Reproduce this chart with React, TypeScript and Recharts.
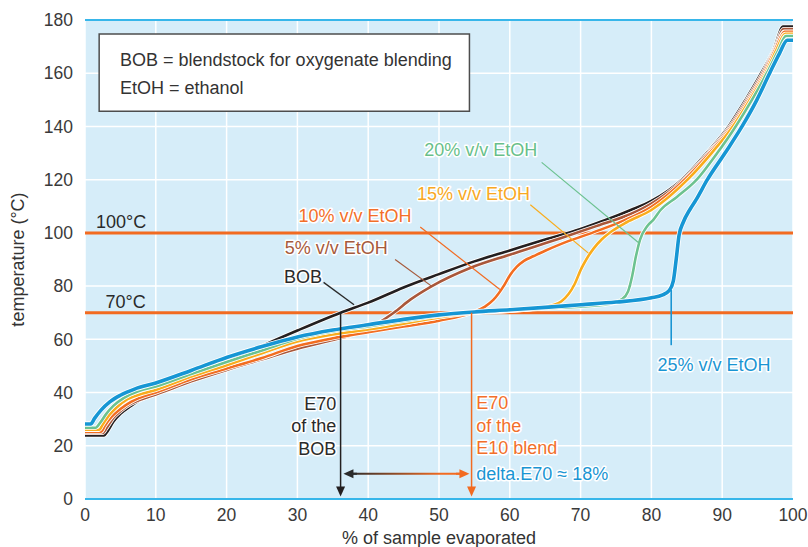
// Distillation curves: BOB vs. ethanol blends, with E70 annotations.
import React from "react";
import {
  CartesianGrid,
  Line,
  LineChart,
  ReferenceArea,
  ReferenceDot,
  ReferenceLine,
  XAxis,
  YAxis,
} from "recharts";

type Pt = [number, number];

const FONT = "'Liberation Sans', Arial, Helvetica, sans-serif";

const xTicks = [0, 10, 20, 30, 40, 50, 60, 70, 80, 90, 100];
const yTicks = [0, 20, 40, 60, 80, 100, 120, 140, 160, 180];

// [% evaporated, temperature °C]
const bob: Pt[] = [
  [0, 23.9], [2.7, 23.9], [3.2, 25.5], [4, 29], [5, 32], [6.5, 35], [8, 37.5], [10, 39.5],
  [15, 45], [20, 51.5], [25, 57.5], [30, 63.3], [36.1, 70], [40, 73.8], [45, 79.5],
  [50, 84.5], [55, 89.3], [60, 93.4], [65, 97.5], [70, 101.5], [73.7, 105], [77, 108.5],
  [80, 112], [84.3, 120], [87.8, 130], [90.9, 140], [93.3, 150], [95.5, 160], [97.3, 169],
  [98.6, 177.5], [100, 177.5],
];
const e5: Pt[] = [
  [0, 24.8], [2.5, 24.8], [3, 26.5], [4, 30.5], [5, 33], [6.5, 35.8], [8, 37.5], [10, 39.3],
  [15, 44.2], [20, 48.5], [25, 52.5], [30, 56.5], [35, 59.8], [38, 61.8], [40, 64],
  [43.6, 70], [46, 75], [49, 80], [54.4, 86.8], [60, 91.8], [68, 98.7], [72.7, 103],
  [77, 107], [80, 111], [84.5, 120], [88, 130], [91.1, 140], [93.5, 150], [95.7, 160],
  [97.4, 169], [98.7, 176.6], [100, 176.6],
];
const e10: Pt[] = [
  [0, 25.3], [2.3, 25.3], [2.8, 27.5], [3.8, 31], [5, 33.8], [6.5, 36.5], [8, 38.3],
  [10, 40], [15, 45], [20, 49], [25, 53], [30, 57.5], [35, 60.4], [40, 62.7], [45, 64.8],
  [50, 67], [54.6, 70], [56.5, 72.3], [57.7, 74.9], [59.1, 79.9], [60, 84], [61, 87.3],
  [62, 89.5], [63.4, 91.3], [65, 93.3], [67.1, 95.7], [71.8, 100.2], [76, 104.5],
  [80, 109.8], [84.7, 120], [88.2, 130], [91.3, 140], [93.7, 150], [95.9, 160],
  [97.5, 169], [98.8, 175.6], [100, 175.6],
];
const e15: Pt[] = [
  [0, 26], [2, 26], [2.5, 28], [3.5, 31.8], [4.5, 34.5], [6, 37.5], [8, 39.5], [10, 41],
  [15, 46], [20, 50.3], [25, 54.8], [30, 59.2], [35, 61.8], [40, 63.7], [45, 65.9],
  [50, 68.2], [55, 69.9], [60, 70.7], [64, 71.7], [66, 72.8], [67.3, 74.3], [68.3, 77],
  [69.2, 81], [70, 86], [70.8, 90], [71.8, 94], [73, 97.6], [74.5, 100.8], [76.5, 104],
  [80, 108.6], [85.1, 120], [88.5, 130], [91.5, 140], [93.9, 150], [96.1, 160],
  [97.7, 169], [98.9, 174.8], [100, 174.8],
];
const e20: Pt[] = [
  [0, 26.8], [1.5, 26.8], [2.1, 28.5], [3, 32], [4, 35], [5.5, 38], [7.5, 40.5],
  [10, 42.3], [15, 47], [20, 51.5], [25, 55.8], [30, 60.2], [35, 63], [40, 64.8],
  [45, 66.9], [50, 68.8], [55, 70], [60, 70.8], [65, 71.6], [70, 72.3], [74, 73.3],
  [75.8, 75], [76.7, 78], [77.3, 84], [77.8, 91], [78.4, 97.5], [79.4, 102.5],
  [80.3, 105], [81.3, 108.6], [83.6, 113.5], [86.4, 120], [89.3, 130], [91.9, 140],
  [94.2, 150], [96.3, 160], [97.9, 168.5], [99, 174], [100, 174],
];
const e25: Pt[] = [
  [0, 28.2], [0.8, 28.2], [1.4, 30.5], [2.3, 33.5], [3.5, 36.5], [5, 39], [7, 41.3],
  [10, 43.6], [15, 48.3], [20, 53.2], [25, 57.3], [30, 60.9], [35, 63.5], [40, 65.5],
  [45, 67.5], [50, 69.2], [55, 70.3], [60, 71.1], [65, 72], [70, 73], [75, 74],
  [80, 75.6], [81.5, 76.6], [82.5, 78.3], [83.1, 82], [83.5, 90], [83.9, 99],
  [84.5, 104], [85.4, 108.6], [86.3, 112.4], [87.9, 120], [90.4, 130], [92.8, 140],
  [94.9, 150], [96.7, 160], [98.1, 167.5], [99.2, 172.4], [100, 172.4],
];

const rows = (pts: Pt[]) => pts.map(([x, y]) => ({ x, y }));

const SERIES = [
  { id: "bob", pts: bob, color: "#231f20", width: 2.6 },
  { id: "e5", pts: e5, color: "#a9573a", width: 2.6 },
  { id: "e10", pts: e10, color: "#f26d21", width: 2.6 },
  { id: "e15", pts: e15, color: "#f9ac1c", width: 2.6 },
  { id: "e20", pts: e20, color: "#6cc290", width: 2.6 },
  { id: "e25", pts: e25, color: "#1696d4", width: 3.6 },
];

const ORANGE = "#f26b21";
const BLUE = "#1a95d3";
const INK = "#2a2a2a";

// label text: [x, y] anchor in data units
const curveLabels = [
  { text: "BOB", at: [28.1, 83.4] as Pt, color: INK },
  { text: "5% v/v EtOH", at: [28.2, 94.3] as Pt, color: "#a65a3c" },
  { text: "10% v/v EtOH", at: [30.15, 106.5] as Pt, color: "#f26f2a" },
  { text: "15% v/v EtOH", at: [46.9, 114.6] as Pt, color: "#f7a823" },
  { text: "20% v/v EtOH", at: [47.9, 131.3] as Pt, color: "#68bf8a" },
  { text: "25% v/v EtOH", at: [80.85, 50.5] as Pt, color: BLUE },
];

// leader lines from label to curve
const leaders = [
  { from: [33.7, 81.4] as Pt, to: [38.0, 73.0] as Pt, color: INK, width: 1.3 },
  { from: [43.8, 90.0] as Pt, to: [49.0, 79.9] as Pt, color: "#a65a3c", width: 1.2 },
  { from: [47.35, 102.2] as Pt, to: [58.6, 78.7] as Pt, color: ORANGE, width: 1.2 },
  { from: [62.9, 110.6] as Pt, to: [71.1, 92.4] as Pt, color: "#f9ac1c", width: 1.2 },
  { from: [64.5, 126.5] as Pt, to: [78.2, 96.3] as Pt, color: "#6cc290", width: 1.2 },
  { from: [82.8, 78.6] as Pt, to: [82.8, 57.8] as Pt, color: BLUE, width: 1.6 },
];

const e70Bob = 36.1;
const e70E10 = 54.6;

function arrowShape(color: string, width: number) {
  return (p: any) => {
    const { x1, y1, x2, y2 } = p;
    const dx = x2 - x1;
    const dy = y2 - y1;
    const len = Math.hypot(dx, dy) || 1;
    const ux = dx / len;
    const uy = dy / len;
    const hl = 10;
    const hw = 4.5;
    const bx = x2 - ux * hl;
    const by = y2 - uy * hl;
    return (
      <g>
        <line x1={x1} y1={y1} x2={bx + ux} y2={by + uy} stroke={color} strokeWidth={width} />
        <polygon
          points={`${x2},${y2} ${bx - uy * hw},${by + ux * hw} ${bx + uy * hw},${by - ux * hw}`}
          fill={color}
        />
      </g>
    );
  };
}

function textShape(lines: string[], color: string, anchor: "start" | "end", size = 18, halo = true) {
  return (p: any) => (
    <text
      x={p.cx}
      y={p.cy}
      fill={color}
      fontSize={size}
      fontFamily={FONT}
      textAnchor={anchor}
      stroke={halo ? "#fff" : "none"}
      strokeWidth={halo ? 3 : 0}
      strokeLinejoin="round"
      paintOrder="stroke"
    >
      {lines.map((l, i) => (
        <tspan key={i} x={p.cx} dy={i === 0 ? "0.35em" : 22.3}>
          {l}
        </tspan>
      ))}
    </text>
  );
}

const yLabel = (props: any) => {
  const vb = props.viewBox;
  const cx = vb.x + 18;
  const cy = vb.y + vb.height / 2;
  return (
    <text
      x={cx}
      y={cy}
      transform={`rotate(-90, ${cx}, ${cy})`}
      textAnchor="middle"
      dy="0.35em"
      fontSize={18}
      fontFamily={FONT}
      fill="#333"
    >
      temperature (°C)
    </text>
  );
};

const xLabel = (props: any) => {
  const vb = props.viewBox;
  return (
    <text
      x={vb.x + vb.width / 2}
      y={vb.y + vb.height - 9}
      textAnchor="middle"
      dy="0.35em"
      fontSize={18}
      fontFamily={FONT}
      fill="#333"
    >
      % of sample evaporated
    </text>
  );
};

export default function App() {
  const tick = { fill: "#3a3a3a", fontSize: 17.5, fontFamily: FONT };
  return (
    <div style={{ position: "absolute", left: 0, top: 0, fontFamily: FONT }}>
      <LineChart width={808} height={547} margin={{ top: 20, right: 15, bottom: 0, left: 0 }}>
        <defs>
          <linearGradient id="deltaGrad" x1="0" y1="0" x2="1" y2="0">
            <stop offset="0" stopColor="#2b2b2b" />
            <stop offset="0.8" stopColor={ORANGE} />
            <stop offset="1" stopColor={ORANGE} />
          </linearGradient>
        </defs>
        <CartesianGrid stroke="#ffffff" strokeWidth={1.5} fill="#d6edf9" />
        <XAxis
          type="number"
          dataKey="x"
          domain={[0, 100]}
          ticks={xTicks}
          interval={0}
          tick={tick}
          tickLine={false}
          tickMargin={4}
          axisLine={{ stroke: "#37b6ea", strokeWidth: 2 }}
          height={48}
          label={xLabel}
        />
        <YAxis
          type="number"
          domain={[0, 180]}
          ticks={yTicks}
          interval={0}
          tick={tick}
          tickLine={false}
          tickMargin={6}
          axisLine={false}
          width={85}
          label={yLabel}
        />
        <ReferenceLine y={180} stroke="#37b6ea" strokeWidth={2} />
        <ReferenceLine y={100} stroke={ORANGE} strokeWidth={3} />
        <ReferenceLine y={70} stroke={ORANGE} strokeWidth={3} />

        <ReferenceArea
          x1={2.0}
          x2={54.3}
          y1={145.7}
          y2={174.7}
          fill="#ffffff"
          fillOpacity={1}
          stroke="#4d4d4d"
          strokeWidth={1.5}
        />
        <ReferenceDot
          x={4.95}
          y={165.1}
          r={0}
          shape={textShape(["BOB = blendstock for oxygenate blending"], "#333", "start", 18, false)}
        />
        <ReferenceDot
          x={4.95}
          y={154.5}
          r={0}
          shape={textShape(["EtOH = ethanol"], "#333", "start", 18, false)}
        />

        {SERIES.flatMap((s) => [
          <Line
            key={`${s.id}-halo`}
            data={rows(s.pts)}
            dataKey="y"
            type="monotoneX"
            stroke="#ffffff"
            strokeWidth={s.width + 1.6}
            dot={false}
            activeDot={false}
            legendType="none"
            isAnimationActive={false}
          />,
          <Line
            key={s.id}
            data={rows(s.pts)}
            dataKey="y"
            type="monotoneX"
            stroke={s.color}
            strokeWidth={s.width}
            dot={false}
            activeDot={false}
            legendType="none"
            isAnimationActive={false}
          />,
        ])}

        {leaders.map((l, i) => (
          <ReferenceLine
            key={`lead-${i}`}
            segment={[
              { x: l.from[0], y: l.from[1] },
              { x: l.to[0], y: l.to[1] },
            ]}
            stroke={l.color}
            strokeWidth={l.width}
          />
        ))}

        {/* E70 drop lines */}
        <ReferenceLine
          segment={[
            { x: e70Bob, y: 70 },
            { x: e70Bob, y: 0.9 },
          ]}
          shape={arrowShape("#231f20", 1.5)}
        />
        <ReferenceLine
          segment={[
            { x: e70E10, y: 70 },
            { x: e70E10, y: 0.9 },
          ]}
          shape={arrowShape(ORANGE, 1.5)}
        />

        {/* delta E70 double arrow */}
        <ReferenceArea x1={37.2} x2={53.6} y1={9.15} y2={9.85} fill="url(#deltaGrad)" fillOpacity={1} />
        <ReferenceLine
          segment={[
            { x: 38.4, y: 9.5 },
            { x: 36.5, y: 9.5 },
          ]}
          shape={arrowShape("#2b2b2b", 2)}
        />
        <ReferenceLine
          segment={[
            { x: 52.4, y: 9.5 },
            { x: 54.3, y: 9.5 },
          ]}
          shape={arrowShape(ORANGE, 2)}
        />

        {curveLabels.map((c) => (
          <ReferenceDot key={c.text} x={c.at[0]} y={c.at[1]} r={0} shape={textShape([c.text], c.color, "start")} />
        ))}
        <ReferenceDot x={1.55} y={104.3} r={0} shape={textShape(["100°C"], INK, "start", 18, false)} />
        <ReferenceDot x={2.9} y={74.0} r={0} shape={textShape(["70°C"], INK, "start", 18, false)} />
        <ReferenceDot
          x={35.48}
          y={35.8}
          r={0}
          shape={textShape(["E70", "of the", "BOB"], INK, "end")}
        />
        <ReferenceDot
          x={55.27}
          y={36.1}
          r={0}
          shape={textShape(["E70", "of the", "E10 blend"], "#f26f2a", "start")}
        />
        <ReferenceDot x={55.27} y={9.5} r={0} shape={textShape(["delta.E70 ≈ 18%"], BLUE, "start")} />
      </LineChart>
    </div>
  );
}
